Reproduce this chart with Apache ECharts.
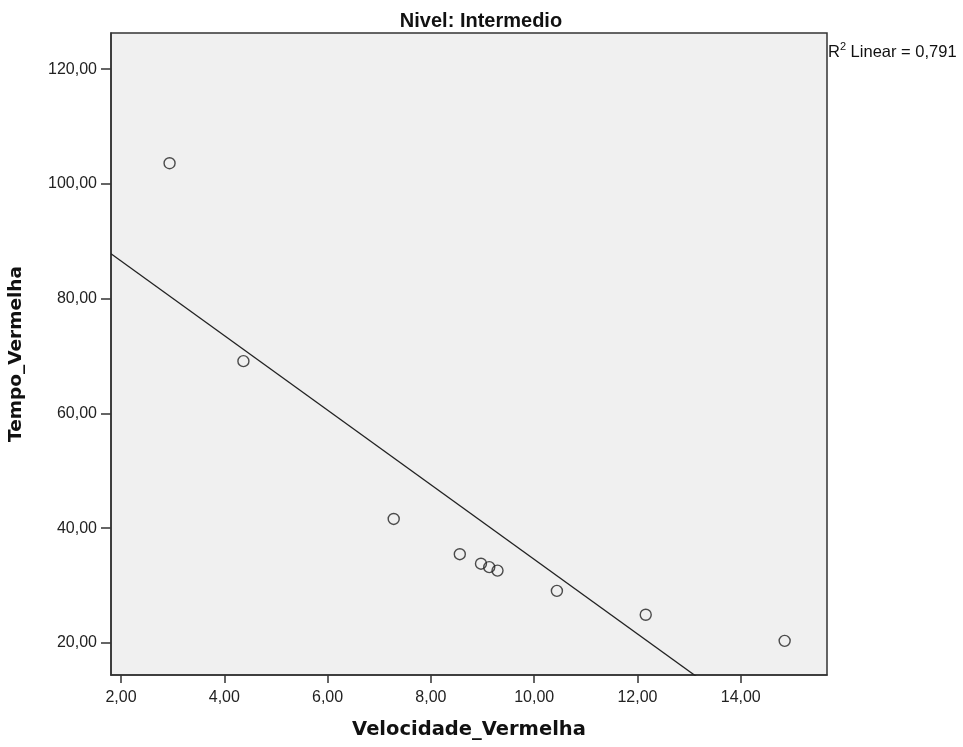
<!DOCTYPE html>
<html><head><meta charset="utf-8">
<script src="https://cdn.jsdelivr.net/npm/echarts@6/dist/echarts.min.js"></script>
<style>html,body{margin:0;padding:0;background:#fff}#c{width:963px;height:747px}</style>
</head><body><div id="c"></div>
<script>
const velocidade = [2.94, 4.37, 7.28, 8.56, 8.97, 9.13, 9.29, 10.44, 12.16, 14.85];
const tempo = [103.6, 69.1, 41.6, 35.45, 33.8, 33.2, 32.6, 29.06, 24.9, 20.35];
const xTicks = [2, 4, 6, 8, 10, 12, 14];
const yTicks = [20, 40, 60, 80, 100, 120];
const xRange = [1.806, 15.67];
const yRange = [14.4, 126.3];
const r2Text = '0,791';

// least squares fit
const n = velocidade.length;
const mx = velocidade.reduce((a,b)=>a+b,0)/n, my = tempo.reduce((a,b)=>a+b,0)/n;
let sxy=0, sxx=0;
for (let i=0;i<n;i++){ sxy+=(velocidade[i]-mx)*(tempo[i]-my); sxx+=(velocidade[i]-mx)**2; }
const slope = sxy/sxx, icpt = my - slope*mx;
const fitLine = [[xRange[0], icpt+slope*xRange[0]], [xRange[1], icpt+slope*xRange[1]]];

const fmt = v => v.toFixed(2).replace('.', ',');
const chart = echarts.init(document.getElementById('c'), null, {renderer:'canvas'});
const axisCol = '#333';
const lblFont = 'Liberation Sans, Arial';
chart.setOption({
  animation:false,
  backgroundColor:'#fff',
  title:{text:'Nivel: Intermedio', left:476, top:6, textAlign:'center',
    textStyle:{fontFamily:'Liberation Sans, Arial', fontWeight:'bold', fontSize:20, color:'#111'}},
  grid:{left:111, top:33, right:136, bottom:72, outerBoundsMode:'none', containLabel:false,
    show:true, backgroundColor:'#f0f0f0', borderColor:axisCol, borderWidth:1.5},
  xAxis:{type:'value', min:xRange[0], max:xRange[1],
    name:'Velocidade_Vermelha', nameLocation:'middle', nameGap:45,
    nameTextStyle:{fontFamily:'DejaVu Sans, Liberation Sans', fontWeight:'bold', fontSize:19.5, color:'#111'},
    axisLine:{show:true, lineStyle:{color:axisCol, width:1.5}},
    axisTick:{show:true, length:8, inside:false, customValues:xTicks, lineStyle:{color:axisCol, width:1.5}},
    axisLabel:{customValues:xTicks, formatter:fmt, margin:15, fontFamily:lblFont, fontSize:16, color:'#222'},
    splitLine:{show:false}},
  yAxis:{type:'value', min:yRange[0], max:yRange[1],
    name:'Tempo_Vermelha', nameLocation:'middle', nameGap:85, nameRotate:90,
    nameTextStyle:{fontFamily:'DejaVu Sans, Liberation Sans', fontWeight:'bold', fontSize:18.5, color:'#111'},
    axisLine:{show:true, lineStyle:{color:axisCol, width:1.5}},
    axisTick:{show:true, length:10, inside:false, customValues:yTicks, lineStyle:{color:axisCol, width:1.5}},
    axisLabel:{customValues:yTicks, formatter:fmt, margin:14, fontFamily:lblFont, fontSize:16, color:'#222'},
    splitLine:{show:false}},
  series:[
    {type:'line', data:fitLine, symbol:'none', clip:true, silent:true,
      lineStyle:{color:'#222', width:1.3}},
    {type:'scatter', data:velocidade.map((x,i)=>[x,tempo[i]]), symbol:'circle', symbolSize:11,
      itemStyle:{color:'rgba(0,0,0,0)', borderColor:'#222', borderWidth:1.4}}
  ],
  graphic:[{type:'text', left:828, top:41,
    style:{text:'{r|R}{s|2}{r| Linear = '+r2Text+'}', rich:{
      r:{fontFamily:lblFont, fontSize:16.5, fill:'#111', verticalAlign:'bottom', lineHeight:20},
      s:{fontFamily:lblFont, fontSize:11, fill:'#111', verticalAlign:'top', lineHeight:20}}}}]
});
</script></body></html>
